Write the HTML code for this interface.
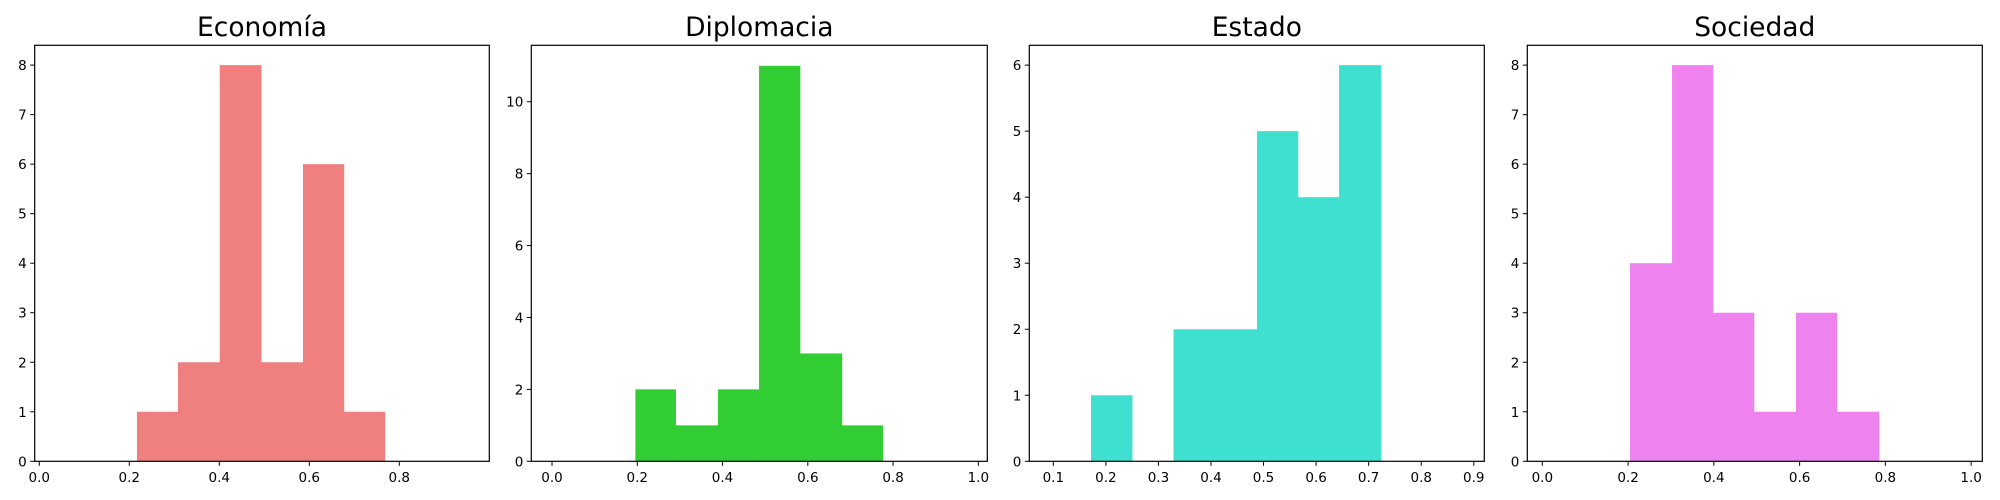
<!DOCTYPE html>
<html><head><meta charset="utf-8"><style>
html,body{margin:0;padding:0;background:#fff;}
svg{display:block;font-family:"DejaVu Sans","Liberation Sans",sans-serif;}
</style></head><body>
<svg id="fig" width="2000" height="500" viewBox="0 0 2000 500" xmlns="http://www.w3.org/2000/svg"></svg>
<script>
// Data per panel
const titles = ["Economía","Diplomacia","Estado","Sociedad"];
const colors = ["#F08080","#32CD32","#40E0D0","#EE82EE"];
const econEdges = [0.217,0.308,0.401,0.493,0.586,0.677,0.768];
const econCounts = [1,2,8,2,6,1];
const diplEdges = [0.1955,0.290,0.389,0.4856,0.5818,0.680,0.776];
const diplCounts = [2,1,2,11,3,1];
const estEdges = [0.1717,0.250,0.3287,0.408,0.4875,0.5655,0.6437,0.7236];
const estCounts = [1,0,2,2,5,4,6];
const socEdges = [0.2046,0.3025,0.398,0.4936,0.5916,0.687,0.785];
const socCounts = [4,8,3,1,3,1];
const econXTicks = ["0.0","0.2","0.4","0.6","0.8"];
const diplXTicks = ["0.0","0.2","0.4","0.6","0.8","1.0"];
const estXTicks = ["0.1","0.2","0.3","0.4","0.5","0.6","0.7","0.8","0.9"];
const socXTicks = ["0.0","0.2","0.4","0.6","0.8","1.0"];
const econYTicks = [0,1,2,3,4,5,6,7,8];
const diplYTicks = [0,2,4,6,8,10];
const estYTicks = [0,1,2,3,4,5,6];
const socYTicks = [0,1,2,3,4,5,6,7,8];

{
const panels = [
 {edges:econEdges,counts:econCounts,xt:econXTicks,yt:econYTicks,l:34.7,r:489.3,xmin:-0.0102,xmax:1.0,ymax:8.4},
 {edges:diplEdges,counts:diplCounts,xt:diplXTicks,yt:diplYTicks,l:531.3,r:987.3,xmin:-0.0486,xmax:1.021,ymax:11.57},
 {edges:estEdges,counts:estCounts,xt:estXTicks,yt:estYTicks,l:1029.3,r:1484.3,xmin:0.0543,xmax:0.920,ymax:6.3},
 {edges:socEdges,counts:socCounts,xt:socXTicks,yt:socYTicks,l:1527.3,r:1982.3,xmin:-0.035,xmax:1.026,ymax:8.4}
];
const axTop=45.3, axBottom=461.3;
const svg=document.getElementById('fig');
const NS="http://www.w3.org/2000/svg";
function mk(tag,attrs,parent){const e=document.createElementNS(NS,tag);for(const k in attrs)e.setAttribute(k,attrs[k]);(parent||svg).appendChild(e);return e;}
panels.forEach((p,i)=>{
  const g=mk('g',{});
  
  
  const X=v=>p.l+(v-p.xmin)/(p.xmax-p.xmin)*(p.r-p.l);
  const Y=v=>axBottom-v/p.ymax*(axBottom-axTop);
  for(let b=0;b<p.counts.length;b++){
    if(p.counts[b]<=0)continue;
    const x0=X(p.edges[b]),x1=X(p.edges[b+1]);
    const r=mk('rect',{x:x0,y:Y(p.counts[b]),width:x1-x0+0.3,height:axBottom-Y(p.counts[b]),fill:colors[i]},g);
    
    
  }
  const frame=mk('rect',{x:p.l,y:axTop,width:p.r-p.l,height:axBottom-axTop,fill:'none',stroke:'#000','stroke-width':1.2},g);
  
  
  p.xt.forEach(t=>{
    const x=X(parseFloat(t));
    mk('line',{x1:x,x2:x,y1:axBottom,y2:axBottom+4.5,stroke:'#000','stroke-width':1},g);
    const tx=mk('text',{x:x,y:482,'font-size':13.5,'text-anchor':'middle',fill:'#000'},g);
    tx.textContent=t;
    
    
  });
  p.yt.forEach(t=>{
    const y=Y(t);
    mk('line',{x1:p.l-4.5,x2:p.l,y1:y,y2:y,stroke:'#000','stroke-width':1},g);
    const ty=mk('text',{x:p.l-8,y:y+5,'font-size':13.5,'text-anchor':'end',fill:'#000'},g);
    ty.textContent=t;
    
    
  });
  const tt=mk('text',{x:(p.l+p.r)/2,y:36,'font-size':26.5,'text-anchor':'middle',fill:'#000'},g);
  tt.textContent=titles[i];
  
  
});
}
</script>
</body></html>
